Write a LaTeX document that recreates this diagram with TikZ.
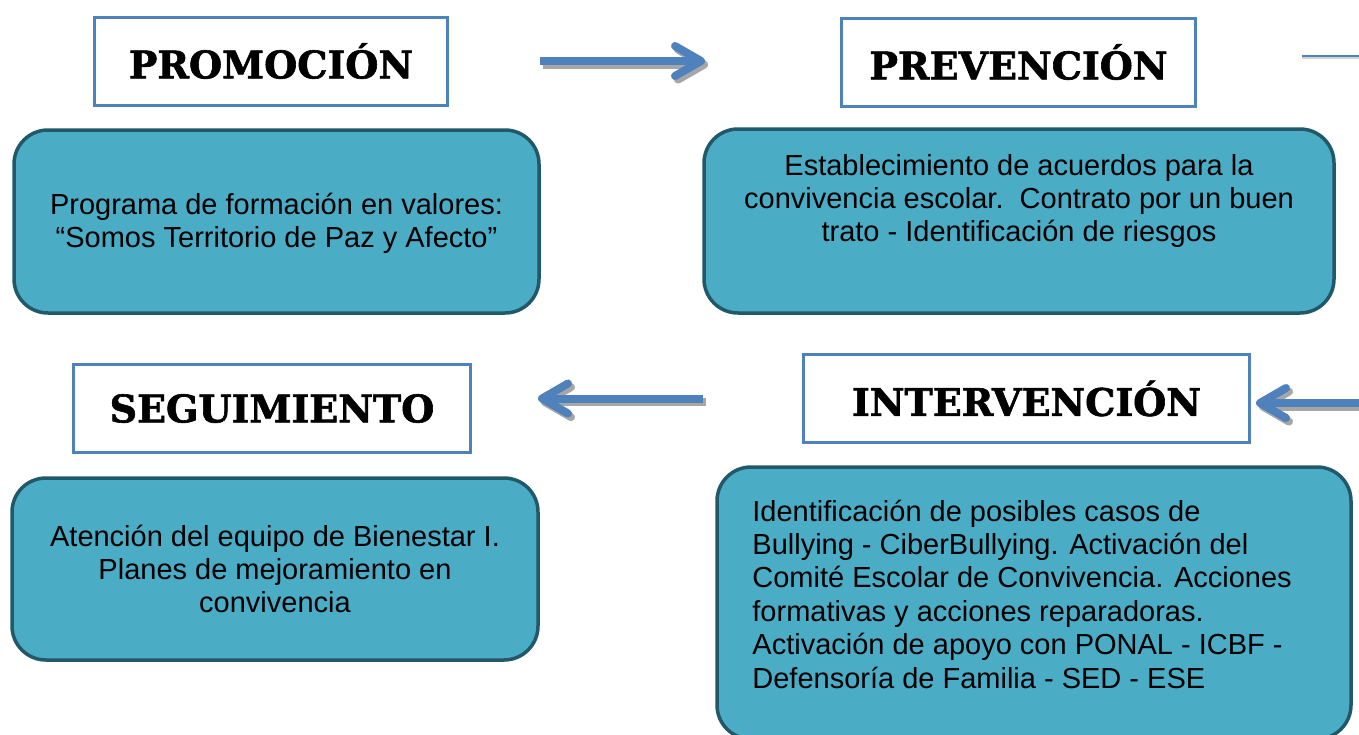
\documentclass[tikz,border=0pt]{standalone}
\usepackage{fontspec}
\setmainfont{Liberation Sans}
\newfontfamily\titlefont{DejaVu Serif}[BoldFeatures={FakeBold=1.6}]
\usepackage{tikz}
\usetikzlibrary{arrows.meta}
\definecolor{boxB}{HTML}{4F81BD}
\definecolor{panF}{HTML}{4BACC6}
\definecolor{panD}{HTML}{215968}
\definecolor{shd}{HTML}{A6A6A6}
\tikzset{
  stage/.style={draw=boxB,line width=1.5pt,fill=white,minimum height=44pt,
    font=\titlefont\bfseries\fontsize{19}{22}\selectfont},
  panel/.style={draw=panD,fill=panF,line width=1.75pt,rounded corners=17pt},
  paneltext/.style={font=\fontsize{14.5}{16.7}\selectfont,inner sep=0pt},
  flowline/.style={boxB,line width=4pt,
    -{Straight Barb[length=13pt,width=15pt,line width=0pt 1,round]}},
  flowshadow/.style={flowline,shd,transform canvas={xshift=1.5pt,yshift=-1.8pt}}
}
\newcommand{\flow}[2]{%
  \draw[flowshadow] #1 -- #2;
  \draw[flowline] #1 -- #2;
}

\begin{document}
\begin{tikzpicture}[x=0.5pt,y=-0.5pt]
\useasboundingbox (0,0) rectangle (1359,734);
\node[panel,minimum width=262.5pt,minimum height=91.5pt] (promobox) at (276.5,221.5) {};
\node[panel,minimum width=315pt,minimum height=92pt] (prevbox) at (1019,221) {};
\node[panel,minimum width=263pt,minimum height=91pt] (segubox) at (275,569) {};
\node[panel,minimum width=317pt,minimum height=136pt] (interbox) at (1034,603) {};
\node[paneltext,align=center] (promotxt) at (276.5,223.5)
  {Programa de formación en valores:\\“Somos Territorio de Paz y Afecto”};
\node[paneltext,align=center] (prevtxt) at (1019,201)
  {Establecimiento de acuerdos para la\\convivencia escolar.\ \ Contrato por un buen\\trato - Identificación de riesgos};
\node[paneltext,align=center] (segutxt) at (275,569)
  {Atención del equipo de Bienestar I.\\Planes de mejoramiento en\\convivencia};
\node[paneltext,align=left,anchor=west] (intertxt) at (752,594)
  {Identificación de posibles casos de\\Bullying - CiberBullying. Activación del\\Comité Escolar de Convivencia. Acciones\\formativas y acciones reparadoras.\\Activación de apoyo con PONAL - ICBF -\\Defensoría de Familia - SED - ESE};
\node[stage,minimum width=176.5pt] (promo) at (271,61) {PROMOCIÓN};
\node[stage,minimum width=177pt] (prev) at (1018.5,62) {PREVENCIÓN};
\node[stage,minimum width=198.5pt] (segu) at (272,408.5) {SEGUIMIENTO};
\node[stage,minimum width=223pt] (inter) at (1026.5,398.5) {INTERVENCIÓN};
\coordinate (edgetop) at (1359,56);
\coordinate (edgemid) at (1380,403);
\flow{([xshift=45.5pt]promo.east)}{([xshift=-67.5pt]prev.west |- promo.east)}
\flow{([xshift=-49.5pt]inter.west)}{([xshift=33pt]inter.west -| segu.east)}
\flow{(edgemid)}{([xshift=2.5pt]edgemid -| inter.east)}
\draw[shd!50,line width=1pt,transform canvas={yshift=-1pt}] ([xshift=52.5pt]prev.east |- edgetop) -- (edgetop);
\draw[boxB,line width=1pt] ([xshift=52.5pt]prev.east |- edgetop) -- (edgetop);
\end{tikzpicture}
\end{document}
